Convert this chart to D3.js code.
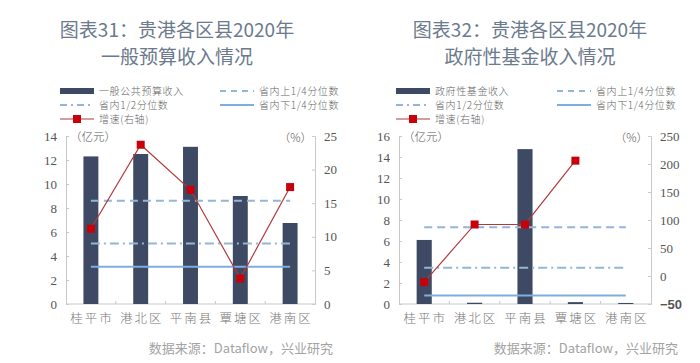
<!DOCTYPE html>
<html lang="zh">
<head>
<meta charset="UTF-8">
<title>贵港各区县2020年收入情况</title>
<script src="https://d3js.org/d3.v7.min.js"></script>
<style>
  body { margin: 0; background: #fff; }
  svg { display: block; }
  .title { font-family: "Noto Sans CJK SC", sans-serif; font-size: 19px; fill: #6b7a8d; text-anchor: middle; }
  .legend text { font-family: "Noto Sans CJK SC", serif; font-size: 10px; font-weight: 300; fill: #666; letter-spacing: 0.6px; }
  .tick text { font-family: "Liberation Serif", serif; font-size: 13px; fill: #555; }
  .cat { font-family: "Noto Sans CJK SC", serif; font-size: 12.5px; font-weight: 300; fill: #777; letter-spacing: 2px; text-anchor: middle; }
  .unit { font-family: "Noto Sans CJK SC", serif; font-size: 11.5px; font-weight: 300; fill: #555; }
  .source { font-family: "Noto Sans CJK SC", sans-serif; font-size: 13px; fill: #a3a3a3; text-anchor: end; }
</style>
</head>
<body>
<div id="chart"></div>
<script>
var categories = ['桂平市', '港北区', '平南县', '覃塘区', '港南区'];

// 图表31 一般预算收入（亿元）与增速（%）
var budgetIncome = [12.3, 12.5, 13.1, 9.0, 6.75];
var budgetGrowth = [11.2, 23.7, 17.0, 3.8, 17.4];
var budgetQuartiles = [8.6, 5.05, 3.1];   // 上1/4, 1/2, 下1/4

// 图表32 政府性基金收入（亿元）与增速（%）
var fundIncome = [6.1, 0.12, 14.75, 0.18, 0.1];
var fundGrowth = [-11, 92, 92, 206, null];
var fundQuartiles = [7.3, 3.45, 0.82];

var leftTicks1 = [0, 2, 4, 6, 8, 10, 12, 14];
var rightTicks1 = [0, 5, 10, 15, 20, 25];
var leftTicks2 = [0, 2, 4, 6, 8, 10, 12, 14, 16];
var rightTicks2 = [-50, 0, 50, 100, 150, 200, 250];

var svg = d3.select('#chart').append('svg')
    .attr('width', 700)
    .attr('height', 363);

var axisColor = '#c9c9c9';
var barColor = '#3e4a63';

drawChart({
    x0: 66, x1: 315, cx: 177,
    title: ['图表31：贵港各区县2020年', '一般预算收入情况'],
    barName: '一般公共预算收入',
    income: budgetIncome, growth: budgetGrowth, quart: budgetQuartiles,
    yMax: 14, leftTicks: leftTicks1,
    rDomain: [0, 25], rightTicks: rightTicks1,
    legendX: 60, legendX2: 220, srcX: 333
});

drawChart({
    x0: 399, x1: 651, cx: 530,
    title: ['图表32：贵港各区县2020年', '政府性基金收入情况'],
    barName: '政府性基金收入',
    income: fundIncome, growth: fundGrowth, quart: fundQuartiles,
    yMax: 16, leftTicks: leftTicks2,
    rDomain: [-50, 250], rightTicks: rightTicks2,
    legendX: 396, legendX2: 557, srcX: 678
});

function drawChart(c) {
    var top = 136, bottom = 304;
    var g = svg.append('g');

    g.append('text').attr('class', 'title').attr('x', c.cx).attr('y', 37).text(c.title[0]);
    g.append('text').attr('class', 'title').attr('x', c.cx).attr('y', 64).text(c.title[1]);

    var x = d3.scaleBand().domain(categories).range([c.x0, c.x1])
        .paddingInner(0.7).paddingOuter(0.35);
    var y = d3.scaleLinear().domain([0, c.yMax]).range([bottom, top]);
    var yr = d3.scaleLinear().domain(c.rDomain).range([bottom, top]);

    // axes
    var la = g.append('g').attr('transform', 'translate(' + c.x0 + ',0)')
        .call(d3.axisLeft(y).tickValues(c.leftTicks).tickSize(-3).tickPadding(9));
    var ra = g.append('g').attr('transform', 'translate(' + c.x1 + ',0)')
        .call(d3.axisRight(yr).tickValues(c.rightTicks).tickSize(-3).tickPadding(9));
    [la, ra].forEach(function (a) {
        a.select('.domain').attr('stroke', axisColor);
        a.selectAll('.tick line').attr('stroke', axisColor);
    });
    ra.selectAll('.tick text').filter(function (d) { return d < 0; })
        .style('font-family', '"Liberation Sans", Arial, sans-serif')
        .style('font-weight', 'bold')
        .style('font-size', '13px')
        .attr('fill', '#e0201f');

    // x axis baseline with boundary ticks
    g.append('line').attr('x1', c.x0).attr('x2', c.x1).attr('y1', bottom).attr('y2', bottom)
        .attr('stroke', axisColor);
    g.selectAll('.xb').data(categories.slice(1)).enter().append('line')
        .attr('x1', function (d) { return x(d) - x.step() * x.paddingInner() / 2; })
        .attr('x2', function (d) { return x(d) - x.step() * x.paddingInner() / 2; })
        .attr('y1', bottom).attr('y2', bottom - 3)
        .attr('stroke', axisColor);

    g.selectAll('.cat').data(categories).enter().append('text')
        .attr('class', 'cat')
        .attr('x', function (d) { return x(d) + x.bandwidth() / 2 + 1; })
        .attr('y', 323)
        .text(function (d) { return d; });

    g.append('text').attr('class', 'unit').attr('x', c.x0 + 4).attr('y', 141).text('（亿元）');
    g.append('text').attr('class', 'unit').attr('x', c.x1 - 3).attr('y', 142)
        .attr('text-anchor', 'end').text('（%）');

    // bars
    g.selectAll('.bar').data(c.income).enter().append('rect')
        .attr('x', function (d, i) { return x(categories[i]); })
        .attr('y', function (d) { return y(d); })
        .attr('width', x.bandwidth())
        .attr('height', function (d) { return bottom - y(d); })
        .attr('fill', barColor);

    // quartile lines
    var xa = x(categories[0]) + x.bandwidth() / 2;
    var xb = x(categories[4]) + x.bandwidth() / 2;
    var styles = [
        { color: '#93b6d8', dash: '8,5' },
        { color: '#93b6d8', dash: '9,4,2,4' },
        { color: '#7eaee0', dash: null }
    ];
    c.quart.forEach(function (q, i) {
        g.append('line')
            .attr('x1', xa).attr('x2', xb)
            .attr('y1', y(q)).attr('y2', y(q))
            .attr('stroke', styles[i].color)
            .attr('stroke-width', 2)
            .attr('stroke-dasharray', styles[i].dash);
    });

    // growth line
    var pts = c.growth.map(function (v, i) { return { cat: categories[i], v: v }; })
        .filter(function (d) { return d.v !== null; });
    var line = d3.line()
        .x(function (d) { return x(d.cat) + x.bandwidth() / 2; })
        .y(function (d) { return yr(d.v); });
    g.append('path').datum(pts).attr('d', line)
        .attr('fill', 'none').attr('stroke', '#b03a3a').attr('stroke-width', 1.2);
    g.selectAll('.mk').data(pts).enter().append('rect')
        .attr('x', function (d) { return x(d.cat) + x.bandwidth() / 2 - 4; })
        .attr('y', function (d) { return yr(d.v) - 4; })
        .attr('width', 8).attr('height', 8)
        .attr('fill', '#c8000a');

    // legend
    var lg = g.append('g').attr('class', 'legend');
    var sw = 34;
    function label(xp, yp, t) {
        lg.append('text').attr('x', xp + sw + 5).attr('y', yp + 4).text(t);
    }
    var r1 = 91, r2 = 105, r3 = 119;
    lg.append('rect').attr('x', c.legendX).attr('y', r1 - 3).attr('width', sw).attr('height', 6).attr('fill', barColor);
    label(c.legendX, r1, c.barName);
    lg.append('line').attr('x1', c.legendX2).attr('x2', c.legendX2 + sw).attr('y1', r1).attr('y2', r1)
        .attr('stroke', styles[0].color).attr('stroke-width', 2).attr('stroke-dasharray', '6,5');
    label(c.legendX2, r1, '省内上1/4分位数');
    lg.append('line').attr('x1', c.legendX).attr('x2', c.legendX + sw).attr('y1', r2).attr('y2', r2)
        .attr('stroke', styles[1].color).attr('stroke-width', 2).attr('stroke-dasharray', '7,4,2,4');
    label(c.legendX, r2, '省内1/2分位数');
    lg.append('line').attr('x1', c.legendX2).attr('x2', c.legendX2 + sw).attr('y1', r2).attr('y2', r2)
        .attr('stroke', styles[2].color).attr('stroke-width', 2);
    label(c.legendX2, r2, '省内下1/4分位数');
    lg.append('line').attr('x1', c.legendX).attr('x2', c.legendX + sw).attr('y1', r3).attr('y2', r3)
        .attr('stroke', '#b03a3a').attr('stroke-width', 1.2);
    lg.append('rect').attr('x', c.legendX + sw / 2 - 4).attr('y', r3 - 4).attr('width', 8).attr('height', 8)
        .attr('fill', '#c8000a');
    label(c.legendX, r3, '增速(右轴)');

    // source
    g.append('text').attr('class', 'source').attr('x', c.srcX).attr('y', 353)
        .text('数据来源：Dataflow，兴业研究');
}
</script>
</body>
</html>
